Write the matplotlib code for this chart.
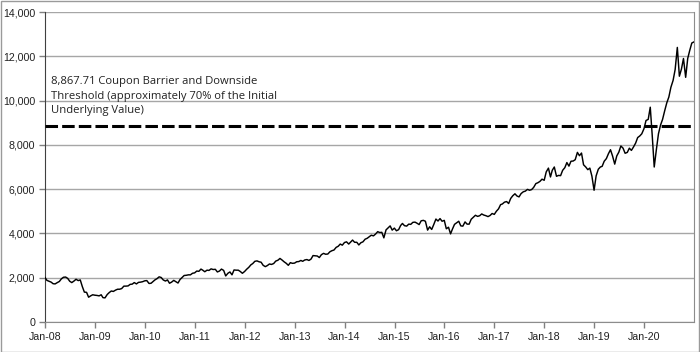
import numpy as np
import pandas as pd
import matplotlib
matplotlib.use("Agg")
import matplotlib.pyplot as plt
import matplotlib.dates as mdates
from matplotlib.patches import Rectangle

# semi-monthly closes (15th and month end)
years = list(range(2008, 2021))
start_value = 2010
closes = {
    2008: [1880, 1840, 1800, 1730, 1720, 1780, 1830, 1950, 2020, 2030, 1970, 1840,
           1780, 1850, 1930, 1870, 1900, 1600, 1350, 1340, 1120, 1180, 1230, 1210],
    2009: [1200, 1180, 1230, 1100, 1090, 1240, 1330, 1400, 1380, 1440, 1480, 1480,
           1510, 1620, 1620, 1630, 1700, 1710, 1780, 1720, 1790, 1800, 1820, 1860],
    2010: [1870, 1740, 1750, 1820, 1900, 1960, 2040, 2010, 1900, 1850, 1900, 1750,
           1800, 1880, 1820, 1760, 1920, 2010, 2100, 2110, 2130, 2130, 2200, 2220],
    2011: [2300, 2290, 2390, 2340, 2270, 2340, 2330, 2400, 2370, 2380, 2260, 2300,
           2390, 2330, 2080, 2200, 2260, 2130, 2350, 2340, 2340, 2280, 2200, 2280],
    2012: [2380, 2470, 2580, 2640, 2740, 2760, 2720, 2700, 2560, 2500, 2550, 2620,
           2600, 2640, 2750, 2790, 2870, 2800, 2720, 2650, 2560, 2680, 2650, 2660],
    2013: [2720, 2730, 2780, 2740, 2800, 2820, 2780, 2840, 3000, 2990, 2980, 2910,
           3040, 3100, 3060, 3070, 3170, 3220, 3250, 3370, 3420, 3520, 3470, 3590],
    2014: [3620, 3520, 3620, 3700, 3600, 3600, 3480, 3580, 3620, 3740, 3780, 3850,
           3920, 3890, 3970, 4080, 4040, 4050, 3800, 4160, 4250, 4340, 4150, 4240],
    2015: [4120, 4170, 4360, 4450, 4350, 4330, 4420, 4410, 4500, 4510, 4460, 4400,
           4570, 4590, 4550, 4150, 4300, 4180, 4400, 4650, 4560, 4670, 4550, 4590],
    2016: [4210, 4280, 3980, 4200, 4410, 4480, 4550, 4340, 4330, 4520, 4420, 4420,
           4640, 4730, 4820, 4770, 4800, 4880, 4830, 4800, 4760, 4810, 4900, 4860],
    2017: [5000, 5110, 5300, 5330, 5410, 5440, 5350, 5580, 5700, 5790, 5690, 5650,
           5800, 5880, 5910, 5990, 5950, 5980, 6080, 6250, 6290, 6350, 6450, 6400],
    2018: [6780, 6950, 6550, 6850, 7000, 6580, 6620, 6610, 6850, 6970, 7200, 7040,
           7260, 7270, 7330, 7660, 7510, 7630, 7100, 7000, 6880, 6950, 6590, 5950],
    2019: [6600, 6900, 7000, 7030, 7260, 7380, 7600, 7780, 7500, 7130, 7500, 7670,
           7950, 7850, 7620, 7660, 7850, 7750, 7900, 8080, 8330, 8400, 8500, 8730],
    2020: [9100, 9150, 9700, 8460, 7000, 7800, 8500, 8890, 9150, 9550, 9900, 10160,
           10600, 10910, 11400, 12400, 11100, 11420, 11900, 11050, 11900, 12270, 12600, 12650],
}
barrier = 8867.71
barrier_label = ["8,867.71 Coupon Barrier and Downside",
                 "Threshold (approximately 70% of the Initial",
                 "Underlying Value)"]

dates = [pd.Timestamp("2008-01-01")]
values = [start_value]
for y in years:
    for m in range(1, 13):
        dates.append(pd.Timestamp(y, m, 15))
        dates.append(pd.Timestamp(y, m, 1) + pd.offsets.MonthEnd(0))
    values.extend(closes[y])

fig = plt.figure(figsize=(7, 3.52), dpi=100)
ax = fig.add_axes([45 / 700, 30 / 352, 649 / 700, 310 / 352])

ax.plot(dates, values, color="black", lw=1.05, zorder=3)
ax.axhline(barrier, color="black", lw=2.2, dashes=(4.1, 1.35), zorder=4)

ax.set_ylim(0, 14000)
ax.set_xlim(pd.Timestamp("2008-01-01"), pd.Timestamp("2020-12-31"))
ax.set_yticks(np.arange(0, 14001, 2000))
ax.yaxis.set_major_formatter(matplotlib.ticker.FuncFormatter(lambda v, p: f"{int(v):,}"))
ax.xaxis.set_major_locator(mdates.YearLocator())
ax.xaxis.set_major_formatter(mdates.DateFormatter("Jan-%y"))
ax.grid(axis="y", color="#a6a6a6", lw=1)
ax.set_axisbelow(True)

ax.spines["top"].set_visible(False)
ax.spines["right"].set_color("#8c8c8c")
ax.spines["bottom"].set_color("#8c8c8c")
ax.spines["left"].set_color("#404040")
ax.tick_params(axis="both", length=4, width=1, color="#808080", labelsize=7.7,
               labelcolor="#222222", pad=3)
for lab in ax.get_xticklabels() + ax.get_yticklabels():
    lab.set_fontfamily("Liberation Sans")

# annotation lines, baselines in pixels from the top
for line, base in zip(barrier_label, [84, 98.5, 113]):
    fig.text(51 / 700, 1 - base / 352, line, fontsize=8.1, family="Open Sans",
             color="#222222", va="baseline", ha="left")

fig.patches.append(Rectangle((0.5 / 700, 0.5 / 352), 698.5 / 700, 350.5 / 352,
                             transform=fig.transFigure, fill=False,
                             edgecolor="#9a9a9a", lw=1))

fig.savefig("out.png", dpi=100)
